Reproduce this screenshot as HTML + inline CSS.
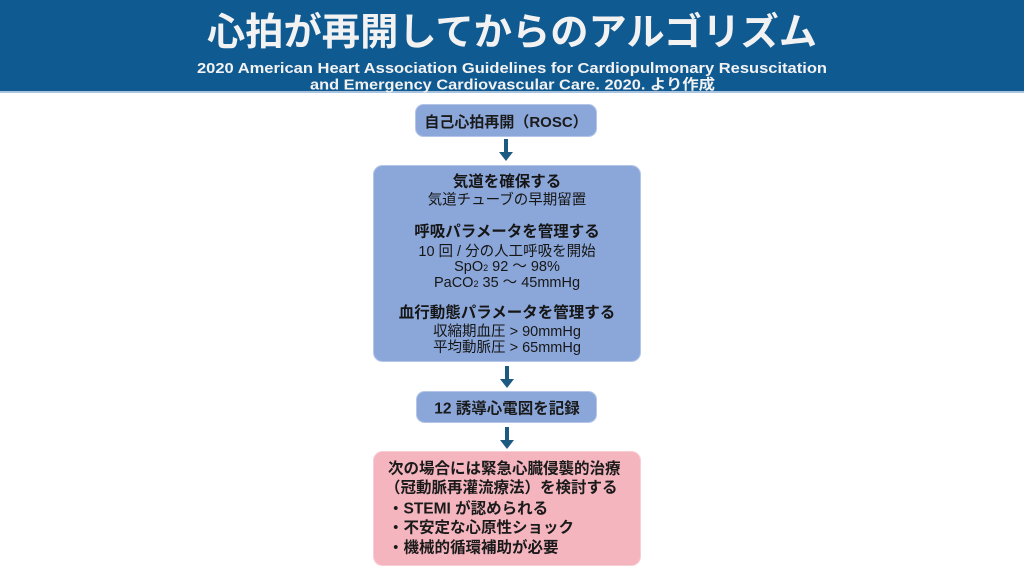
<!DOCTYPE html>
<html>
<head>
<meta charset="utf-8">
<style>
  html,body{margin:0;padding:0;background:#fff;}
  body{width:1024px;height:576px;overflow:hidden;}
  svg{display:block;}
  .jp{font-family:"Liberation Sans","Noto Sans CJK JP",sans-serif;}
</style>
</head>
<body>
<svg width="1024" height="576" viewBox="0 0 1024 576" xmlns="http://www.w3.org/2000/svg">
  <!-- header -->
  <rect x="0" y="0" width="1024" height="91" fill="#105A92"/>
  <rect x="0" y="91" width="1024" height="2" fill="#A9C3DE"/>
  <text class="jp" x="512" y="45" text-anchor="middle" font-size="38" font-weight="bold" fill="#F2F2F2" textLength="610" lengthAdjust="spacingAndGlyphs">心拍が再開してからのアルゴリズム</text>
  <text class="jp" x="512" y="73" text-anchor="middle" font-size="14.5" font-weight="bold" fill="#F2F2F2" textLength="630" lengthAdjust="spacingAndGlyphs">2020 American Heart Association Guidelines for Cardiopulmonary Resuscitation</text>
  <text class="jp" x="512.5" y="89.5" text-anchor="middle" font-size="14.5" font-weight="bold" fill="#F2F2F2" textLength="405" lengthAdjust="spacingAndGlyphs">and Emergency Cardiovascular Care. 2020. より作成</text>

  <!-- ROSC box -->
  <rect x="415.5" y="104.5" width="181" height="32" rx="8" fill="#8BA7DA" stroke="#B4C6E8" stroke-width="1"/>
  <text class="jp" x="506" y="127" text-anchor="middle" font-size="15" font-weight="bold" fill="#1a1a1a">自己心拍再開（ROSC）</text>

  <!-- arrow 1 -->
  <line x1="506" y1="139" x2="506" y2="154" stroke="#1D5A82" stroke-width="4"/>
  <polygon points="499,152 513,152 506,161" fill="#1D5A82"/>

  <!-- big box -->
  <rect x="373.5" y="165.5" width="267" height="196" rx="9" fill="#8BA7DA" stroke="#B4C6E8" stroke-width="1"/>
  <g class="jp" text-anchor="middle" fill="#161616">
    <text x="507" y="186.5" font-size="15.5" font-weight="bold">気道を確保する</text>
    <text x="507" y="204.5" font-size="14.5">気道チューブの早期留置</text>
    <text x="507" y="236.5" font-size="15.5" font-weight="bold">呼吸パラメータを管理する</text>
    <text x="507" y="256" font-size="14.5">10 回 / 分の人工呼吸を開始</text>
    <text x="507" y="271" font-size="14.5">SpO<tspan font-size="9">2</tspan> 92 〜 98%</text>
    <text x="507" y="287" font-size="14.5">PaCO<tspan font-size="9">2</tspan> 35 〜 45mmHg</text>
    <text x="507" y="317.5" font-size="15.5" font-weight="bold">血行動態パラメータを管理する</text>
    <text x="507" y="336" font-size="14.5">収縮期血圧 &gt; 90mmHg</text>
    <text x="507" y="352" font-size="14.5">平均動脈圧 &gt; 65mmHg</text>
  </g>

  <!-- arrow 2 -->
  <line x1="507" y1="366" x2="507" y2="381" stroke="#1D5A82" stroke-width="4"/>
  <polygon points="500,379 514,379 507,388" fill="#1D5A82"/>

  <!-- 12 lead box -->
  <rect x="416.5" y="391.5" width="180" height="31" rx="8" fill="#8BA7DA" stroke="#B4C6E8" stroke-width="1"/>
  <text class="jp" x="507" y="413.5" text-anchor="middle" font-size="15.5" font-weight="bold" fill="#1a1a1a">12 誘導心電図を記録</text>

  <!-- arrow 3 -->
  <line x1="507" y1="427" x2="507" y2="442" stroke="#1D5A82" stroke-width="4"/>
  <polygon points="500,440 514,440 507,449" fill="#1D5A82"/>

  <!-- pink box -->
  <rect x="373.5" y="451.5" width="267" height="114" rx="9" fill="#F4B5BF" stroke="#F8CDD4" stroke-width="1"/>
  <g class="jp" fill="#1a1a1a" font-size="15.5" font-weight="bold">
    <text x="388" y="473.5">次の場合には緊急心臓侵襲的治療</text>
    <text x="385" y="492.5">（冠動脈再灌流療法）を検討する</text>
    <text x="388" y="513.5">・STEMI が認められる</text>
    <text x="388" y="532.5">・不安定な心原性ショック</text>
    <text x="388" y="552.5">・機械的循環補助が必要</text>
  </g>
</svg>
</body>
</html>
